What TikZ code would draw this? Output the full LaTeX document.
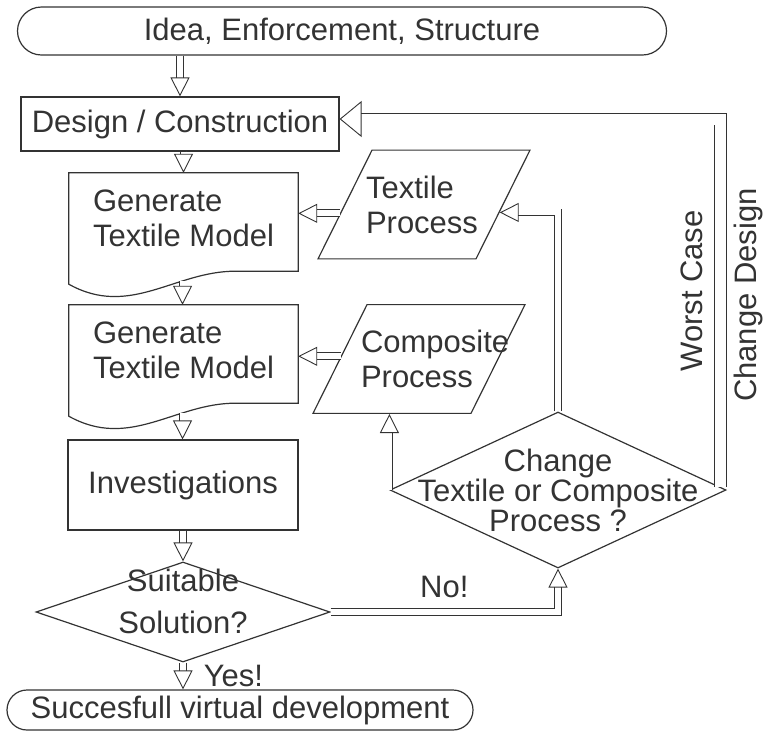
\documentclass[tikz,border=0pt]{standalone}
\usepackage{fontspec}
\setmainfont{Liberation Sans}
\usepackage{xcolor}
\definecolor{inkgray}{RGB}{51,51,51}
\usepackage{tikz}
\usetikzlibrary{calc}
\usetikzlibrary{shapes.misc}
\usetikzlibrary{shapes.geometric}
\usetikzlibrary{arrows.meta}
\hyphenpenalty=10000
\newcommand{\widthdoc}{229pt}
\newcommand{\heightdoc}{90pt}
\newcommand{\docoutline}[1]{%
    \draw[draw=inkgray, line width=1.2pt] (#1.north west) -- (#1.north east)
        -- ($(#1.south east)+(0,8)$) -- ($(#1.south east)+(-63,8)$)
        .. controls ($(#1.south west)+(106,8)$) and ($(#1.south west)+(61,55)$)
        .. coordinate[pos=0.31] (#1-tail) ($(#1.south west)+(0,21)$) -- cycle;}
\tikzset{
    common/.style={draw=inkgray, line width=1.2pt, text=inkgray},
    term/.style={common, rounded rectangle, inner sep=0pt},
    block/.style={common, rectangle, inner sep=0pt},
    doc/.style={rectangle, align=left, inner sep=0pt, minimum width=\widthdoc, minimum height=\heightdoc},
    proc/.style={common, trapezium, trapezium left angle=63.6, trapezium right angle=116.4,
        text width=116pt, align=left, inner xsep=-6pt, inner ysep=25.5pt},
    decision/.style={common, diamond, aspect=2.2, align=center, inner sep=-32pt},
    flow/.style={draw=inkgray, line width=0.9pt, double=white, double distance=6pt,
        -{Triangle[open, line width=0.9pt, length=19pt, width=19pt]}},
    bigflow/.style={flow, double distance=11pt,
        -{Triangle[open, line width=0.9pt, length=22pt, width=36pt]}}
}

\begin{document}
\begin{tikzpicture}[x=1pt, y=-1pt, every node/.style={font=\fontsize{31pt}{35pt}\selectfont, text=inkgray}]
    \useasboundingbox (0,0) rectangle (763,732);

    \node[term, minimum width=649pt, minimum height=48pt] (idea) at (342,31) {Idea, Enforcement, Structure};
    \node[block, minimum width=318pt, minimum height=54pt] (design) at (180,124) {Design / Construction};
    \node[doc] (gen1) at (183.5,218) {Generate\\Textile Model};
    \node[doc] (gen2) at (183.5,350) {Generate\\Textile Model};
    \docoutline{gen1}
    \docoutline{gen2}
    \node[proc] (textile) at (424,204.5) {Textile\\Process};
    \node[proc] (composite) at (419,359) {Composite\\Process};
    \node[block, minimum width=230pt, minimum height=90pt] (invest) at (183,485) {Investigations};
    \node[decision, minimum width=294pt, minimum height=100pt] (suitable) at (183,612)
        {\smash{Suitable}\\[7pt]\smash{Solution?}};
    \node[decision, minimum width=336pt, minimum height=156pt, font=\fontsize{31pt}{30pt}\selectfont]
        (change) at (558,490) {Change\\Textile or Composite\\Process ?};
    \node[term, minimum width=466pt, minimum height=40pt] (done) at (240,710) {Succesfull virtual development};
    \node[rotate=90] (worst) at (692,291) {Worst Case};
    \node[rotate=90] (chdesign) at (748,295) {Change Design};

    \draw[flow] (design.north |- idea.south) -- (design.north);
    \draw[flow] (gen1.north |- design.south) -- (gen1.north);
    \draw[flow] (gen1-tail) -- (gen1-tail |- gen2.north);
    \draw[flow] (gen2-tail) -- (gen2-tail |- invest.north);
    \draw[flow] (invest.south) -- (suitable.north);
    \draw[flow] (suitable.south) -- node[right=17pt] {Yes!} (suitable.south |- done.north);
    \draw[flow] (suitable.east) -| node[pos=0.25, above=10pt] {No!} (change.south);
    \draw[flow] (change.west) -- (change.west |- composite.south);
    \draw[flow] (change.north) |- (textile.-6);
    \draw[bigflow] (change.1) |- ([yshift=5pt]design.east);
    \draw[flow] (textile.186) -- (textile.186 -| gen1.east);
    \draw[flow] (composite.178) -- (composite.178 -| gen2.east);
\end{tikzpicture}
\end{document}
